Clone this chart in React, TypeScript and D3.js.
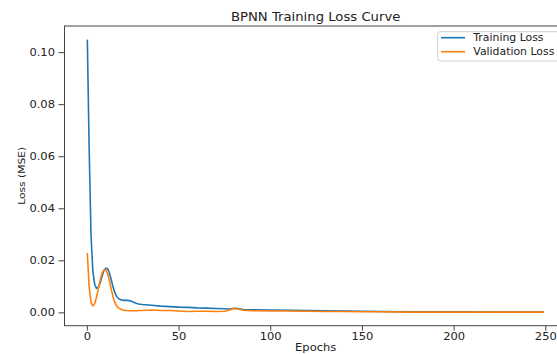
import React from "react";
import * as d3 from "d3";

const epochs = [
  0, 1, 2, 3, 4, 5, 6, 7, 8, 9, 10, 11, 12, 13, 14, 15, 16, 17, 18, 19, 20,
  21, 22, 23, 24, 25, 26, 27, 28, 29, 30, 35, 40, 45, 50, 55, 60, 65, 70, 75,
  78, 80, 82, 85, 90, 100, 110, 120, 130, 140, 150, 160, 175, 200, 225, 249,
];

const trainLoss = [
  0.105, 0.063, 0.03, 0.016, 0.011, 0.0094, 0.0098, 0.0115, 0.014, 0.0162,
  0.0171, 0.017, 0.0155, 0.0128, 0.01, 0.0078, 0.0063, 0.0055, 0.0051, 0.0049,
  0.0048, 0.0048, 0.0048, 0.0047, 0.0045, 0.0042, 0.0039, 0.0036, 0.0034,
  0.0033, 0.0032, 0.0029, 0.0026, 0.0024, 0.0022, 0.0021, 0.0019, 0.0018,
  0.0017, 0.0016, 0.0015, 0.0018, 0.0017, 0.0013, 0.0012, 0.0011, 0.001,
  0.0009, 0.0008, 0.0007, 0.0006, 0.0005, 0.0004, 0.0004, 0.0003, 0.0003,
];

const valLoss = [
  0.023, 0.01, 0.004, 0.0027, 0.0035, 0.006, 0.0092, 0.0125, 0.0152, 0.0165,
  0.0166, 0.0152, 0.0125, 0.0092, 0.0062, 0.004, 0.0026, 0.0019, 0.0015,
  0.0012, 0.001, 0.0009, 0.0009, 0.0008, 0.0008, 0.0008, 0.0008, 0.0008,
  0.0009, 0.0009, 0.0009, 0.0011, 0.0009, 0.0009, 0.0007, 0.0005, 0.0006,
  0.0006, 0.0005, 0.0006, 0.0012, 0.0017, 0.0015, 0.001, 0.0008, 0.0007,
  0.0007, 0.0006, 0.0005, 0.0005, 0.0004, 0.0004, 0.0003, 0.0003, 0.0003,
  0.0003,
];

const xTicks = [0, 50, 100, 150, 200, 250];
const yTicks = [0, 0.02, 0.04, 0.06, 0.08, 0.1];

const series = [
  { name: "Training Loss", values: trainLoss, color: "#1f77b4" },
  { name: "Validation Loss", values: valLoss, color: "#ff7f0e" },
];

const W = 557,
  H = 354;
const left = 64.5,
  right = 566.8,
  top = 26,
  bottom = 325.7;
const font = "DejaVu Sans, sans-serif";
const sx = 1.15; // the source image is a bit wider than tall

function Label(props: {
  x: number;
  y: number;
  size: number;
  anchor?: string;
  dy?: string;
  rotate?: number;
  stretch?: number;
  children: React.ReactNode;
}) {
  const { x, y, size, anchor = "middle", dy, rotate, stretch = sx } = props;
  const t = rotate
    ? `translate(${x},${y}) scale(1,${stretch}) rotate(${rotate})`
    : `translate(${x},${y}) scale(${stretch},1)`;
  return (
    <text transform={t} textAnchor={anchor} dy={dy} fontSize={size} fill="#222">
      {props.children}
    </text>
  );
}

export default function App() {
  const xExt = d3.extent(epochs) as [number, number];
  const xPad = (xExt[1] - xExt[0]) * 0.05;
  const x = d3
    .scaleLinear()
    .domain([xExt[0] - xPad, xExt[1] + xPad])
    .range([left, right]);

  const all = trainLoss.concat(valLoss);
  const yMin = d3.min(all)!,
    yMax = d3.max(all)!;
  const yPad = (yMax - yMin) * 0.05;
  const y = d3
    .scaleLinear()
    .domain([yMin - yPad, yMax + yPad])
    .range([bottom, top]);

  const line = d3
    .line<number>()
    .x((d, i) => x(epochs[i]))
    .y((d) => y(d));

  return (
    <svg
      width={W}
      height={H}
      style={{ position: "absolute", left: 0, top: 0, background: "#fff" }}
      fontFamily={font}
    >
      <defs>
        <clipPath id="plot">
          <rect x={left} y={top} width={right - left} height={bottom - top} />
        </clipPath>
      </defs>

      {series.map((s) => (
        <path
          key={s.name}
          d={line(s.values) || ""}
          fill="none"
          stroke={s.color}
          strokeWidth={1.6}
          strokeLinejoin="round"
          clipPath="url(#plot)"
        />
      ))}

      {/* spines */}
      <rect
        x={left}
        y={top}
        width={right - left}
        height={bottom - top}
        fill="none"
        stroke="#444"
        strokeWidth={1}
      />

      {xTicks.map((t) => (
        <g key={t}>
          <line
            x1={x(t)}
            x2={x(t)}
            y1={bottom}
            y2={bottom + 5}
            stroke="#444"
          />
          <Label x={x(t)} y={bottom + 14.5} size={10}>
            {t}
          </Label>
        </g>
      ))}
      {yTicks.map((t) => (
        <g key={t}>
          <line
            x1={left}
            x2={left - 6}
            y1={y(t)}
            y2={y(t)}
            stroke="#444"
          />
          <Label x={left - 9.5} y={y(t)} size={10} anchor="end" dy="0.35em">
            {d3.format(".2f")(t)}
          </Label>
        </g>
      ))}

      <Label x={(left + right) / 2} y={20.5} size={11.5}>
        BPNN Training Loss Curve
      </Label>
      <Label x={(left + right) / 2} y={350.5} size={10}>
        Epochs
      </Label>
      <Label x={25} y={(top + bottom) / 2} size={9.3} rotate={-90}>
        Loss (MSE)
      </Label>

      {/* legend */}
      <rect
        x={437.7}
        y={31.7}
        width={130}
        height={29.3}
        rx={2.5}
        fill="#fff"
        fillOpacity={0.8}
        stroke="#d0d0d0"
      />
      {series.map((s, i) => (
        <g key={s.name}>
          <line
            x1={441}
            x2={465}
            y1={37.7 + i * 14}
            y2={37.7 + i * 14}
            stroke={s.color}
            strokeWidth={1.6}
          />
          <Label
            x={473.3}
            y={37.7 + i * 14}
            size={10}
            anchor="start"
            dy="0.35em"
            stretch={1.09}
          >
            {s.name}
          </Label>
        </g>
      ))}
    </svg>
  );
}
